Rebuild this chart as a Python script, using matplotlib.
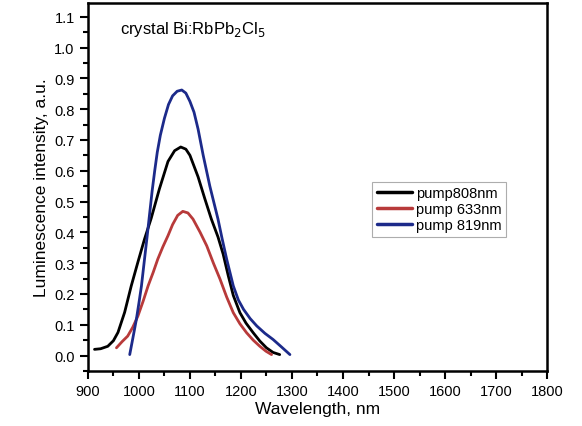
import matplotlib
matplotlib.use("Agg")
import matplotlib.pyplot as plt
from matplotlib.ticker import MultipleLocator

plt.rcParams['font.family'] = ['Liberation Sans', 'DejaVu Sans']

# =====================
# DATA
# =====================
wl_808 = [913, 925, 939, 950, 959, 972, 985, 998, 1011, 1024, 1040, 1057, 1070, 1082, 1092, 1100, 1116, 1129,
          1142, 1155, 1165, 1175, 1185, 1198, 1210, 1224, 1237, 1250, 1263, 1276]
int_808 = [0.02, 0.022, 0.03, 0.048, 0.075, 0.14, 0.226, 0.303, 0.378, 0.445, 0.54, 0.63, 0.665, 0.677, 0.67,
           0.65, 0.58, 0.51, 0.443, 0.385, 0.33, 0.26, 0.195, 0.139, 0.105, 0.074, 0.047, 0.025, 0.01, 0.003]

wl_633 = [956, 967, 978, 988, 998, 1008, 1018, 1028, 1037, 1047, 1057, 1066, 1076, 1086, 1096, 1106, 1120,
          1133, 1146, 1159, 1172, 1185, 1198, 1211, 1224, 1237, 1249, 1260]
int_633 = [0.025, 0.045, 0.063, 0.092, 0.128, 0.175, 0.226, 0.27, 0.313, 0.353, 0.389, 0.425, 0.455, 0.468,
           0.463, 0.443, 0.40, 0.356, 0.30, 0.248, 0.19, 0.139, 0.103, 0.074, 0.05, 0.03, 0.014, 0.003]

wl_819 = [982, 988, 995, 1000, 1005, 1011, 1016, 1021, 1026, 1031, 1036, 1042, 1050, 1058, 1066, 1075, 1084,
          1092, 1100, 1108, 1116, 1126, 1139, 1155, 1163, 1172, 1185, 1195, 1205, 1218, 1231, 1247, 1263,
          1280, 1296]
int_819 = [0.003, 0.055, 0.117, 0.17, 0.226, 0.313, 0.385, 0.46, 0.535, 0.60, 0.66, 0.715, 0.77, 0.815, 0.843,
           0.858, 0.862, 0.852, 0.825, 0.79, 0.735, 0.65, 0.55, 0.443, 0.38, 0.313, 0.226, 0.18, 0.15, 0.12,
           0.096, 0.072, 0.052, 0.027, 0.003]

labels = ["pump808nm", "pump 633nm", "pump 819nm"]
colors = ["#000000", "#b83a3a", "#1c2a8a"]

# =====================
# PLOT
# =====================
fig = plt.figure(figsize=(5.82, 4.27), dpi=100)
ax = fig.add_axes([0.151, 0.129, 0.789, 0.862])

for wl, val, lab, c in zip([wl_808, wl_633, wl_819], [int_808, int_633, int_819], labels, colors):
    ax.plot(wl, val, color=c, lw=2, label=lab, solid_joinstyle='round', solid_capstyle='round')

ax.set_xlim(900, 1800)
ax.set_ylim(-0.05, 1.145)
ax.xaxis.set_major_locator(MultipleLocator(100))
ax.xaxis.set_minor_locator(MultipleLocator(50))
ax.yaxis.set_minor_locator(MultipleLocator(0.05))
ax.set_yticks([i / 10 for i in range(12)])
ax.set_yticklabels([f"{i / 10:.1f}" for i in range(12)])

ax.tick_params(which='both', direction='out', width=1.5, labelsize=10.5)
ax.tick_params(which='major', length=6)
ax.tick_params(which='minor', length=3.5)
for s in ax.spines.values():
    s.set_linewidth(1.8)

ax.set_xlabel("Wavelength, nm", fontsize=12.5, labelpad=2)
ax.set_ylabel("Luminescence intensity, a.u.", fontsize=12.5, labelpad=4)

ax.text(0.07, 0.93, "crystal Bi:RbPb$_2$Cl$_5$", transform=ax.transAxes,
        fontsize=12, ha='left', va='center')

leg = ax.legend(loc='upper left', bbox_to_anchor=(0.619, 0.514), fontsize=10.5,
                frameon=True, fancybox=False, handlelength=2.4, handletextpad=0.3,
                borderpad=0.3, labelspacing=0.15, borderaxespad=0)
leg.get_frame().set_edgecolor('#999999')
leg.get_frame().set_linewidth(0.8)
for line in leg.get_lines():
    line.set_linewidth(2.5)

plt.savefig("out.png", dpi=100)
